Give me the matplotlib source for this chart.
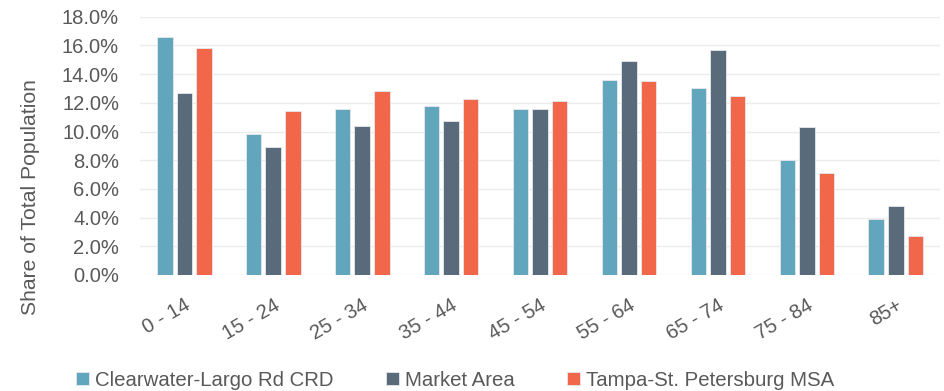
import numpy as np
import matplotlib.pyplot as plt
from matplotlib.ticker import PercentFormatter

plt.rcParams['font.family'] = ['Liberation Sans', 'DejaVu Sans']

age_groups = ['0 - 14', '15 - 24', '25 - 34', '35 - 44', '45 - 54',
              '55 - 64', '65 - 74', '75 - 84', '85+']
clearwater = [16.6, 9.8, 11.6, 11.8, 11.6, 13.6, 13.0, 8.0, 3.9]
market_area = [12.7, 8.9, 10.4, 10.7, 11.6, 14.9, 15.7, 10.3, 4.8]
tampa_msa = [15.8, 11.4, 12.8, 12.3, 12.1, 13.5, 12.5, 7.1, 2.7]

series = [('Clearwater-Largo Rd CRD', clearwater, '#62a6bd'),
          ('Market Area', market_area, '#596b7a'),
          ('Tampa-St. Petersburg MSA', tampa_msa, '#f2674a')]

fig = plt.figure(figsize=(9.45, 3.91), dpi=100)
ax = fig.add_axes([0.148, 0.297, 0.847, 0.66])

x = np.arange(len(age_groups))
step = 0.22
for i, (name, vals, col) in enumerate(series):
    ax.bar(x + (i - 1) * step, vals, width=0.175, color=col,
           edgecolor='#e6e9ec', linewidth=0.6, label=name, zorder=3)

txt = '#595959'
ax.set_ylim(0, 18)
ax.set_yticks(np.arange(0, 18.1, 2))
ax.yaxis.set_major_formatter(PercentFormatter(decimals=1))
ax.set_xlim(-0.5, len(age_groups) - 0.5)
ax.set_xticks(x)
ax.set_xticklabels(age_groups, rotation=30, ha='right', rotation_mode='anchor')
ax.tick_params(axis='both', length=0, labelsize=14.5, colors=txt)
ax.tick_params(axis='x', pad=15)
ax.tick_params(axis='y', pad=15)
ax.grid(axis='y', color='#ececec', linewidth=1, zorder=0)
for s in ax.spines.values():
    s.set_visible(False)
ax.set_ylabel('Share of Total Population', fontsize=15.2, color=txt)
# excel places the title a bit below the plot centre
ax.yaxis.set_label_coords(-0.125, 0.30)

ax.legend(loc='upper center', bbox_to_anchor=(0.394, -0.3), ncol=3,
          frameon=False, fontsize=14.7, labelcolor=txt, handlelength=0.6,
          handleheight=0.6, handletextpad=0.3, columnspacing=2.6)

fig.savefig('out.png', dpi=100)
